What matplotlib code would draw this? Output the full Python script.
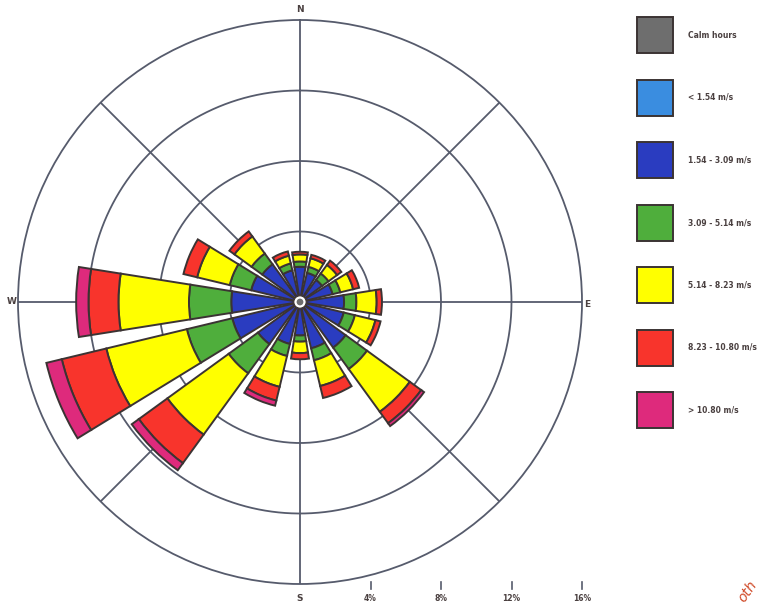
import numpy as np
import matplotlib
matplotlib.use("Agg")
import matplotlib.pyplot as plt
from matplotlib.patches import Rectangle, Circle

# directions clockwise from north
directions = ["N", "NNE", "NE", "ENE", "E", "ESE", "SE", "SSE",
              "S", "SSW", "SW", "WSW", "W", "WNW", "NW", "NNW"]

# frequency (%) of each speed class per direction
light_blue = [0.2] * 16
blue = [1.8, 1.5, 1.35, 1.7, 2.3, 2.35, 3.0, 2.5, 1.7, 2.25, 2.75, 3.75, 3.7, 2.65, 2.45, 1.65]
green = [0.3, 0.35, 0.45, 0.45, 0.7, 0.65, 1.5, 0.7, 0.35, 0.7, 2.05, 2.65, 2.4, 1.25, 0.75, 0.4]
yellow = [0.4, 0.5, 0.6, 0.75, 1.15, 1.2, 3.0, 1.5, 0.65, 1.8, 4.3, 4.7, 4.0, 1.9, 1.2, 0.45]
red = [0.15, 0.2, 0.3, 0.35, 0.3, 0.3, 0.8, 0.7, 0.35, 0.8, 2.0, 2.6, 1.7, 0.8, 0.35, 0.25]
magenta = [0, 0, 0, 0, 0, 0, 0.2, 0, 0, 0.3, 0.5, 0.9, 0.7, 0, 0, 0]

legend_labels = ["Calm hours", "< 1.54 m/s", "1.54 - 3.09 m/s", "3.09 - 5.14 m/s",
                 "5.14 - 8.23 m/s", "8.23 - 10.80 m/s", "> 10.80 m/s"]
colors = ["#6e6e6e", "#3a8de0", "#2a3cc0", "#4fae3c", "#ffff00", "#f8342c", "#de2a7c"]
ring_values = [4, 8, 12, 16]

edge = "#3b3333"
grid_c = "#565b6c"
text_c = "#4a4040"

fig = plt.figure(figsize=(7.61, 6.05), dpi=100)
ax = fig.add_axes([18 / 761, 21 / 605, 564 / 761, 564 / 605], projection="polar")
ax.set_theta_zero_location("N")
ax.set_theta_direction(-1)
ax.set_ylim(0, 16)
ax.grid(False)
ax.set_xticks([])
ax.set_yticks([])
ax.spines["polar"].set_color(grid_c)
ax.spines["polar"].set_linewidth(1.3)

t = np.linspace(0, 2 * np.pi, 400)
for r in ring_values[:-1]:
    ax.plot(t, np.full_like(t, r), color=grid_c, lw=1.3, zorder=1)
for a in range(0, 360, 45):
    ax.plot([np.deg2rad(a)] * 2, [0, 16], color=grid_c, lw=1.3, zorder=1)

theta = np.deg2rad(np.arange(16) * 22.5)
width = np.deg2rad(18)
bottom = np.zeros(16)
for vals, c in zip([light_blue, blue, green, yellow, red, magenta], colors[1:]):
    vals = np.array(vals)
    m = vals > 0
    ax.bar(theta[m], vals[m], width=width, bottom=bottom[m], color=c,
           edgecolor=edge, linewidth=1.4, zorder=2)
    bottom += vals

# calm hours hub
ax.add_patch(Circle((0.5, 0.5), 0.011, transform=ax.transAxes, fc="white", ec=edge, lw=0.8, zorder=5))
ax.add_patch(Circle((0.5, 0.5), 0.006, transform=ax.transAxes, fc=colors[0], ec="none", zorder=6))

# compass labels
for lab, x, y in [("N", 0.5, 1.018), ("S", 0.5, -0.025), ("W", -0.011, 0.5), ("E", 1.01, 0.495)]:
    ax.text(x, y, lab, transform=ax.transAxes, ha="center", va="center",
            fontsize=6.5, fontweight="bold", color=text_c)

# scale below
for v in ring_values:
    x = 0.5 + 0.5 * v / 16
    ax.plot([x, x], [0.003, -0.008], transform=ax.transAxes, color=grid_c, lw=1.2, clip_on=False)
    ax.text(x, -0.025, "%d%%" % v, transform=ax.transAxes, ha="center", va="center",
            fontsize=5.5, fontweight="bold", color=text_c)

# legend
for i, (lab, c) in enumerate(zip(legend_labels, colors)):
    yc = 35 + i * 62.5
    fig.patches.append(Rectangle((637 / 761, (605 - yc - 18) / 605), 36 / 761, 36 / 605,
                                 transform=fig.transFigure, fc=c, ec=edge, lw=1.4))
    fig.text(688 / 761, (605 - yc) / 605, lab, ha="left", va="center",
             fontsize=5.5, fontweight="bold", color=text_c)

fig.text(748 / 761, 14 / 605, "oth", rotation=55, ha="center", va="center",
         fontsize=10, style="italic", color="#d04a28")

fig.savefig("out.png", dpi=100)
